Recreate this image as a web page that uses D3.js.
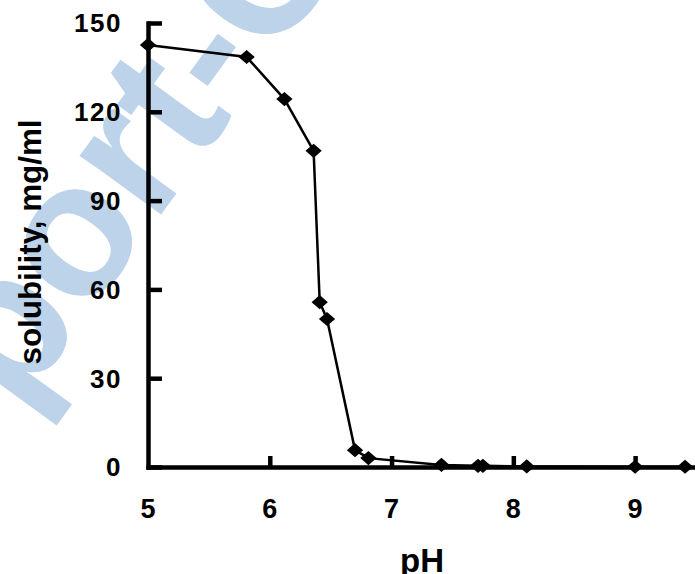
<!DOCTYPE html>
<html>
<head>
<meta charset="utf-8">
<script src="https://cdn.jsdelivr.net/npm/d3@7"></script>
<style>
	body { margin: 0; background: #fff; }
	svg { display: block; }
	text { font-family: "Liberation Sans", Arial, sans-serif; }
</style>
</head>
<body>
<div id="chart"></div>
<script>
	///////////////////////////////////////////////////////////////////////////
	//////////////////////////////// Data /////////////////////////////////////
	///////////////////////////////////////////////////////////////////////////

	var pH = [5.0, 5.81, 6.12, 6.36, 6.41, 6.47, 6.70, 6.81, 7.41, 7.71, 7.75, 8.11, 9.0, 9.41];
	var solubility = [142.6, 138.5, 124.3, 106.8, 55.7, 50.0, 5.7, 3.0, 0.7, 0.4, 0.4, 0.2, 0.1, 0.1];

	var xTicks = [5, 6, 7, 8, 9];
	var yTicks = [0, 30, 60, 90, 120, 150];

	var data = pH.map(function(d, i) { return {x: d, y: solubility[i]}; });

	///////////////////////////////////////////////////////////////////////////
	//////////////////////////// Set up the SVG ///////////////////////////////
	///////////////////////////////////////////////////////////////////////////

	var width = 695,
		height = 574;

	var svg = d3.select("#chart")
		.append("svg")
		.attr("width", width)
		.attr("height", height);

	var x = d3.scaleLinear()
		.domain([5, 9.5])
		.range([148, 696]);

	var y = d3.scaleLinear()
		.domain([0, 150])
		.range([467, 23]);

	//Watermark behind everything
	svg.append("text")
		.attr("transform", "translate(17,413) rotate(-54)")
		.style("font-size", "190px")
		.style("font-weight", "bold")
		.style("fill", "#bcd3ea")
		.attr("x", -243)
		.text("Report-Co");

	///////////////////////////////////////////////////////////////////////////
	/////////////////////////////// Axes //////////////////////////////////////
	///////////////////////////////////////////////////////////////////////////

	//y axis, ticks pointing inward
	var yAxis = svg.append("g")
		.attr("transform", "translate(" + x(5) + ",0)")
		.call(d3.axisRight(y).tickValues(yTicks).tickSize(14).tickSizeOuter(0).tickFormat(""));

	//x axis, ticks pointing up
	var xAxis = svg.append("g")
		.attr("transform", "translate(0," + y(0) + ")")
		.call(d3.axisTop(x).tickValues(xTicks.slice(1)).tickSize(11).tickSizeOuter(0).tickFormat(""));

	svg.selectAll(".domain, .tick line")
		.style("stroke", "#000")
		.style("stroke-width", 4.5);
	svg.selectAll(".domain").attr("stroke-linecap", "square");

	//Tick labels
	svg.selectAll(".y-label")
		.data(yTicks)
		.enter().append("text")
		.attr("class", "y-label")
		.attr("x", 122)
		.attr("y", function(d) { return y(d); })
		.attr("dy", "0.36em")
		.attr("text-anchor", "end")
		.style("font-size", "26px")
		.style("font-weight", "bold")
		.style("letter-spacing", "1.5px")
		.text(function(d) { return d; });

	svg.selectAll(".x-label")
		.data(xTicks)
		.enter().append("text")
		.attr("class", "x-label")
		.attr("x", function(d) { return x(d); })
		.attr("y", 518)
		.attr("text-anchor", "middle")
		.style("font-size", "27px")
		.style("font-weight", "bold")
		.text(function(d) { return d; });

	//Axis titles
	svg.append("text")
		.attr("x", 422)
		.attr("y", 572)
		.attr("text-anchor", "middle")
		.style("font-size", "33px")
		.style("font-weight", "bold")
		.text("pH");

	svg.append("text")
		.attr("transform", "translate(41,242) rotate(-90)")
		.attr("text-anchor", "middle")
		.attr("textLength", 245)
		.attr("lengthAdjust", "spacingAndGlyphs")
		.style("font-size", "32px")
		.style("font-weight", "bold")
		.text("solubility, mg/ml");

	///////////////////////////////////////////////////////////////////////////
	/////////////////////////// Line and markers //////////////////////////////
	///////////////////////////////////////////////////////////////////////////

	var line = d3.line()
		.x(function(d) { return x(d.x); })
		.y(function(d) { return y(d.y); });

	svg.append("path")
		.datum(data)
		.attr("d", line)
		.style("fill", "none")
		.style("stroke", "#000")
		.style("stroke-width", 2.5);

	var diamond = d3.symbol().type(d3.symbolSquare).size(100);

	svg.selectAll(".marker")
		.data(data)
		.enter().append("path")
		.attr("class", "marker")
		.attr("d", diamond)
		.attr("transform", function(d) {
			return "translate(" + x(d.x) + "," + y(d.y) + ") scale(1.15,1) rotate(45)";
		})
		.style("fill", "#000");
</script>
</body>
</html>
